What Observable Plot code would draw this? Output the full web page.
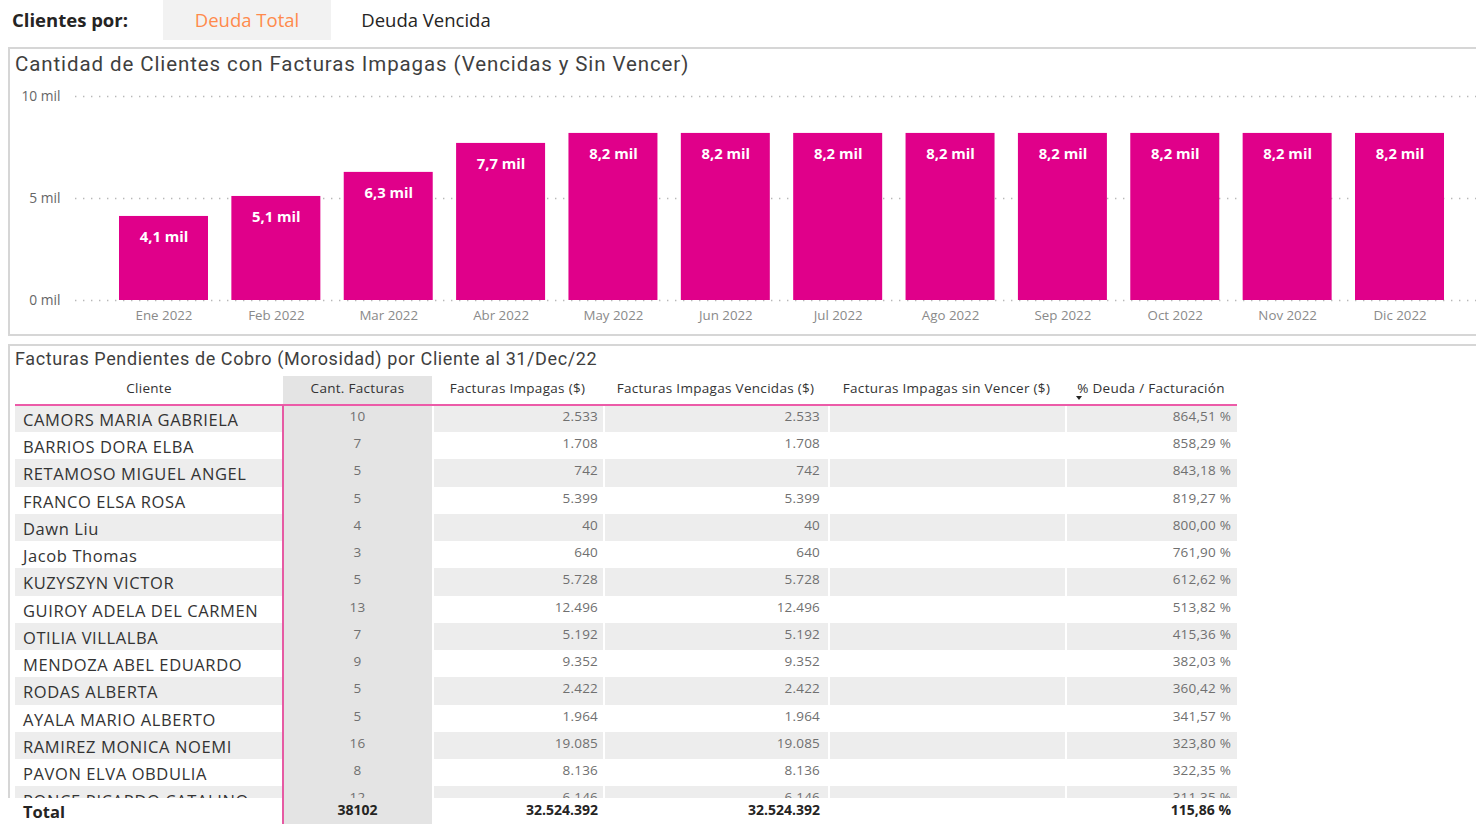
<!DOCTYPE html>
<html>
<head>
<meta charset="utf-8">
<script src="https://cdn.jsdelivr.net/npm/d3@7"></script>
<script src="https://cdn.jsdelivr.net/npm/@observablehq/plot@0.6"></script>
<style>
html, body { margin:0; padding:0; width:1476px; height:824px; overflow:hidden; background:#fff; }
body { position:relative; font-family:"Open Sans", "Noto Sans", sans-serif; }
.abs { position:absolute; }
.title { font-family: Roboto, "Noto Sans", sans-serif; color:#3f3f3f; white-space:nowrap; }
.cell { position:absolute; top:0; height:100%; box-sizing:border-box; white-space:nowrap; overflow:hidden; }
svg { max-width:none !important; }
</style>
</head>
<body>
<div id="root"></div>
<script>
// ---------- DATA ----------
const months = ["Ene 2022","Feb 2022","Mar 2022","Abr 2022","May 2022","Jun 2022","Jul 2022","Ago 2022","Sep 2022","Oct 2022","Nov 2022","Dic 2022"];
const clientesCount = [4120, 5100, 6280, 7700, 8190, 8190, 8190, 8190, 8190, 8190, 8190, 8190];
const yTicks = [0, 5000, 10000];

const tabLabels = ["Deuda Total", "Deuda Vencida"];

const tableHeaders = ["Cliente", "Cant. Facturas", "Facturas Impagas ($)", "Facturas Impagas Vencidas ($)", "Facturas Impagas sin Vencer ($)", "% Deuda / Facturación"];
const clientNames = ["CAMORS MARIA GABRIELA","BARRIOS DORA ELBA","RETAMOSO MIGUEL ANGEL","FRANCO ELSA ROSA","Dawn Liu","Jacob Thomas","KUZYSZYN VICTOR","GUIROY ADELA DEL CARMEN","OTILIA VILLALBA","MENDOZA ABEL EDUARDO","RODAS ALBERTA","AYALA MARIO ALBERTO","RAMIREZ MONICA NOEMI","PAVON ELVA OBDULIA","PONCE RICARDO CATALINO"];
const cantFacturas = [10, 7, 5, 5, 4, 3, 5, 13, 7, 9, 5, 5, 16, 8, 12];
const facturasImpagas = ["2.533","1.708","742","5.399","40","640","5.728","12.496","5.192","9.352","2.422","1.964","19.085","8.136","6.146"];
const facturasVencidas = ["2.533","1.708","742","5.399","40","640","5.728","12.496","5.192","9.352","2.422","1.964","19.085","8.136","6.146"];
const facturasSinVencer = ["","","","","","","","","","","","","","",""];
const pctDeuda = ["864,51 %","858,29 %","843,18 %","819,27 %","800,00 %","761,90 %","612,62 %","513,82 %","415,36 %","382,03 %","360,42 %","341,57 %","323,80 %","322,35 %","311,35 %"];
const totalRow = ["Total", "38102", "32.524.392", "32.524.392", "", "115,86 %"];

// ---------- LAYOUT ----------
const root = document.getElementById("root");
function el(tag, css, text) {
  const e = document.createElement(tag);
  e.className = "abs";
  Object.assign(e.style, css);
  if (text !== undefined) e.textContent = text;
  return e;
}

// Top selector bar
root.appendChild(el("div", {left:"12px", top:"0px", height:"40px", lineHeight:"40px", fontSize:"18.5px", fontWeight:"700", color:"#252423"}, "Clientes por:"));
root.appendChild(el("div", {left:"163px", top:"0px", width:"168px", height:"40px", background:"#f2f2f2"}));
root.appendChild(el("div", {left:"163px", top:"0px", width:"168px", height:"40px", lineHeight:"40px", textAlign:"center", fontSize:"18.5px", color:"#FF8A4C"}, tabLabels[0]));
root.appendChild(el("div", {left:"340px", top:"0px", width:"172px", height:"40px", lineHeight:"40px", textAlign:"center", fontSize:"18.5px", color:"#252423"}, tabLabels[1]));

// Chart card
root.appendChild(el("div", {left:"8px", top:"47px", width:"1500px", height:"289px", borderTop:"2px solid #d6d6d6", borderLeft:"2px solid #d6d6d6", borderBottom:"2px solid #d6d6d6", boxSizing:"border-box"}));
const t1 = el("div", {left:"15px", top:"51px", height:"26px", lineHeight:"26px", fontSize:"20.5px", letterSpacing:"0.9px"}, "Cantidad de Clientes con Facturas Impagas (Vencidas y Sin Vencer)");
t1.classList.add("title");
root.appendChild(t1);

const barData = months.map((m, i) => ({month: m, value: clientesCount[i]}));
const fmt = v => (v / 1000).toFixed(1).replace(".", ",") + " mil";

const chart = Plot.plot({
  width: 1476,
  height: 250,
  marginLeft: 75,
  marginRight: 0,
  marginTop: 16,
  marginBottom: 30,
  style: {fontFamily: '"Open Sans", "Noto Sans", sans-serif', background: "transparent", overflow: "visible", maxWidth: "none"},
  x: {domain: months, range: [119, 1444], paddingInner: 0.208, paddingOuter: 0, round: false, label: null},
  y: {domain: [0, 10000], label: null},
  marks: [
    Plot.gridY(yTicks, {stroke: "#b8b8b8", strokeOpacity: 1, strokeWidth: 1.4, strokeDasharray: "1.4,6.6"}),
    Plot.barY(barData, {x: "month", y: "value", fill: "#E0008A"}),
    Plot.text(barData, {x: "month", y: "value", text: d => fmt(d.value), dy: 21, fill: "#ffffff", fontWeight: "700", fontSize: 14.8}),
    Plot.axisX({tickSize: 0, tickPadding: 10, fontSize: 13.3, color: "#8a8a8a", label: null}),
    Plot.axisY({ticks: yTicks, tickFormat: d => (d / 1000) + " mil", tickSize: 0, tickPadding: 15, fontSize: 13.8, color: "#666666", label: null})
  ]
});
const chartWrap = el("div", {left:"0px", top:"80px", width:"1476px"});
chartWrap.appendChild(chart);
root.appendChild(chartWrap);

// Table card
root.appendChild(el("div", {left:"8px", top:"344px", width:"1500px", height:"500px", borderTop:"2px solid #d6d6d6", borderLeft:"2px solid #d6d6d6", boxSizing:"border-box"}));
const t2 = el("div", {left:"15px", top:"347px", height:"24px", lineHeight:"24px", fontSize:"18px", letterSpacing:"0.6px"}, "Facturas Pendientes de Cobro (Morosidad) por Cliente al 31/Dec/22");
t2.classList.add("title");
root.appendChild(t2);

const cols = [
  {x:15,   w:268, align:"left",   pad:8},
  {x:283,  w:149, align:"center", pad:0},
  {x:432,  w:171, align:"right",  pad:5},
  {x:603,  w:225, align:"right",  pad:8},
  {x:828,  w:237, align:"right",  pad:6},
  {x:1065, w:172, align:"right",  pad:6}
];
const cantBg = "#e4e4e4";
const stripeBg = "#ededed";

// Header
const header = el("div", {left:"0px", top:"376px", width:"1476px", height:"28px"});
tableHeaders.forEach((h, j) => {
  const c = cols[j];
  const d = document.createElement("div");
  d.className = "cell";
  Object.assign(d.style, {left:c.x+"px", width:c.w+"px", textAlign:"center", lineHeight:"25px", fontSize:"13.5px", letterSpacing:"0.3px", color:"#333", background: j === 1 ? cantBg : "transparent"});
  d.textContent = h;
  header.appendChild(d);
});
root.appendChild(header);
// sort arrow
root.appendChild(el("div", {left:"1076px", top:"396px", width:"0px", height:"0px", borderLeft:"3.5px solid transparent", borderRight:"3.5px solid transparent", borderTop:"4.5px solid #252423"}));

// Body rows
const rowH = 27.23;
const body = el("div", {left:"0px", top:"405px", width:"1476px", height:"393px", overflow:"hidden"});
clientNames.forEach((name, i) => {
  const vals = [name, String(cantFacturas[i]), facturasImpagas[i], facturasVencidas[i], facturasSinVencer[i], pctDeuda[i]];
  const row = document.createElement("div");
  Object.assign(row.style, {position:"absolute", left:"0px", top:(i*rowH)+"px", width:"1476px", height:rowH+"px"});
  vals.forEach((v, j) => {
    const c = cols[j];
    const d = document.createElement("div");
    d.className = "cell";
    const gray = i % 2 === 0;
    Object.assign(d.style, {
      left:c.x+"px", width:c.w+"px", textAlign:c.align,
      paddingLeft: c.align === "left" ? c.pad+"px" : "0px",
      paddingRight: c.align === "right" ? c.pad+"px" : "0px",
      background: j === 1 ? cantBg : (gray ? stripeBg : "#fff"),
      borderLeft: j > 1 ? "2px solid #fff" : "none"
    });
    if (j === 0) {
      Object.assign(d.style, {fontSize:"16.5px", letterSpacing:"0.6px", color:"#333", lineHeight:(rowH+2)+"px"});
    } else {
      Object.assign(d.style, {fontSize:"13.5px", letterSpacing:"0.2px", color:"#707070", lineHeight:(rowH-4)+"px"});
    }
    d.textContent = v;
    row.appendChild(d);
  });
  body.appendChild(row);
});
root.appendChild(body);

// Total row
const tot = el("div", {left:"0px", top:"798px", width:"1476px", height:"26px", background:"#fff"});
totalRow.forEach((v, j) => {
  const c = cols[j];
  const d = document.createElement("div");
  d.className = "cell";
  Object.assign(d.style, {
    left:c.x+"px", width:c.w+"px", textAlign:c.align,
    paddingLeft: c.align === "left" ? c.pad+"px" : "0px",
    paddingRight: c.align === "right" ? c.pad+"px" : "0px",
    background: j === 1 ? cantBg : "#fff",
    fontWeight:"700", color:"#252423"
  });
  if (j === 0) Object.assign(d.style, {fontSize:"16.5px", lineHeight:"28px"});
  else Object.assign(d.style, {fontSize:"14px", lineHeight:"24px"});
  d.textContent = v;
  tot.appendChild(d);
});
root.appendChild(tot);

// Pink separators
root.appendChild(el("div", {left:"15px", top:"404px", width:"1222px", height:"2px", background:"#EC5BA8"}));
root.appendChild(el("div", {left:"282px", top:"405px", width:"1.5px", height:"419px", background:"#E65AA3"}));
</script>
</body>
</html>
